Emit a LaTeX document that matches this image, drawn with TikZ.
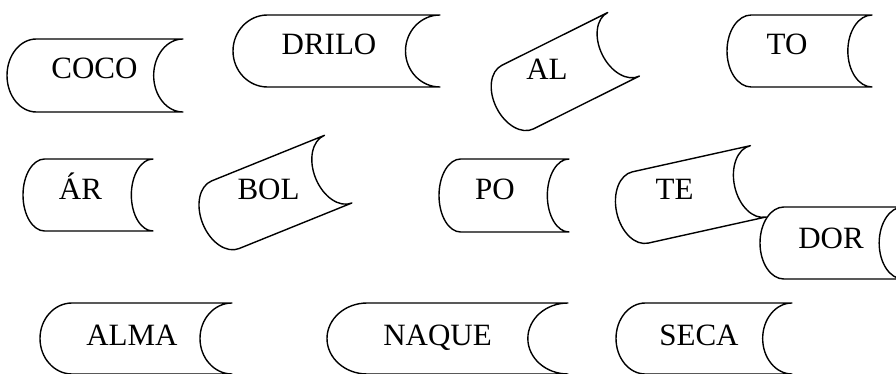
\documentclass[tikz,border=0pt]{standalone}
\usepackage{fontspec}
\setmainfont{Liberation Serif}
\newcommand{\olstore}[5]{%
  \begin{scope}[shift={(#1,#2)}, rotate=#5]
    \pgfmathsetmacro\ww{#3/2}%
    \pgfmathsetmacro\hh{#4/2}%
    \pgfmathsetmacro\dd{#3/6}%
    \pgfmathsetmacro\kd{0.5523*\dd}%
    \pgfmathsetmacro\kh{0.5523*\hh}%
    \draw[storeline] ({-\ww+\dd},{-\hh}) -- ({\ww},{-\hh})
      .. controls ({\ww-\kd},{-\hh}) and ({\ww-\dd},{-\kh}) .. ({\ww-\dd},0)
      .. controls ({\ww-\dd},{\kh}) and ({\ww-\kd},{\hh}) .. ({\ww},{\hh})
      -- ({-\ww+\dd},{\hh})
      .. controls ({-\ww+\dd-\kd},{\hh}) and ({-\ww},{\kh}) .. ({-\ww},0)
      .. controls ({-\ww},{-\kh}) and ({-\ww+\dd-\kd},{-\hh}) .. cycle;
  \end{scope}}
\begin{document}
\begin{tikzpicture}[x=1pt,y=-1pt,
  storeline/.style={line width=1.4pt, line join=round, fill=white},
  lbl/.style={anchor=base, inner sep=0pt, font=\fontsize{31}{36}\selectfont}]
\useasboundingbox (0,0) rectangle (896,374);
\clip (0,0) rectangle (896,374);
\fill[white] (0,0) rectangle (896,374);
% row 1
\olstore{95}{75.5}{176}{73}{0}
\node[lbl] (coco) at (94.5,79) {COCO};
\olstore{336.5}{51}{207}{72}{0}
\node[lbl] (drilo) at (329,55) {DRILO};
\olstore{560}{76}{142}{71}{26.5}
\node[lbl] (al) at (547,80) {AL};
\olstore{799.5}{51}{145}{72}{0}
\node[lbl] (to) at (787,55) {TO};
% row 2
\olstore{88}{195}{130}{72}{0}
\node[lbl] (ar) at (80.5,200) {ÁR};
\olstore{270.5}{196.5}{146}{73}{22}
\node[lbl] (bol) at (268.5,200) {BOL};
\olstore{504}{195.5}{130}{73}{0}
\node[lbl] (po) at (495,200) {PO};
\olstore{687.5}{197}{145}{73}{12.5}
\node[lbl] (te) at (674.5,200) {TE};
\olstore{831.5}{243}{143}{72}{0}
\node[lbl] (dor) at (831,248) {DOR};
% row 3
\olstore{136}{338.5}{192}{71}{0}
\node[lbl] (alma) at (132,345) {ALMA};
\olstore{447.5}{338.5}{241}{71}{0}
\node[lbl] (naque) at (437.5,345) {NAQUE};
\olstore{704}{338.5}{176}{71}{0}
\node[lbl] (seca) at (699,345) {SECA};
\end{tikzpicture}
\end{document}
